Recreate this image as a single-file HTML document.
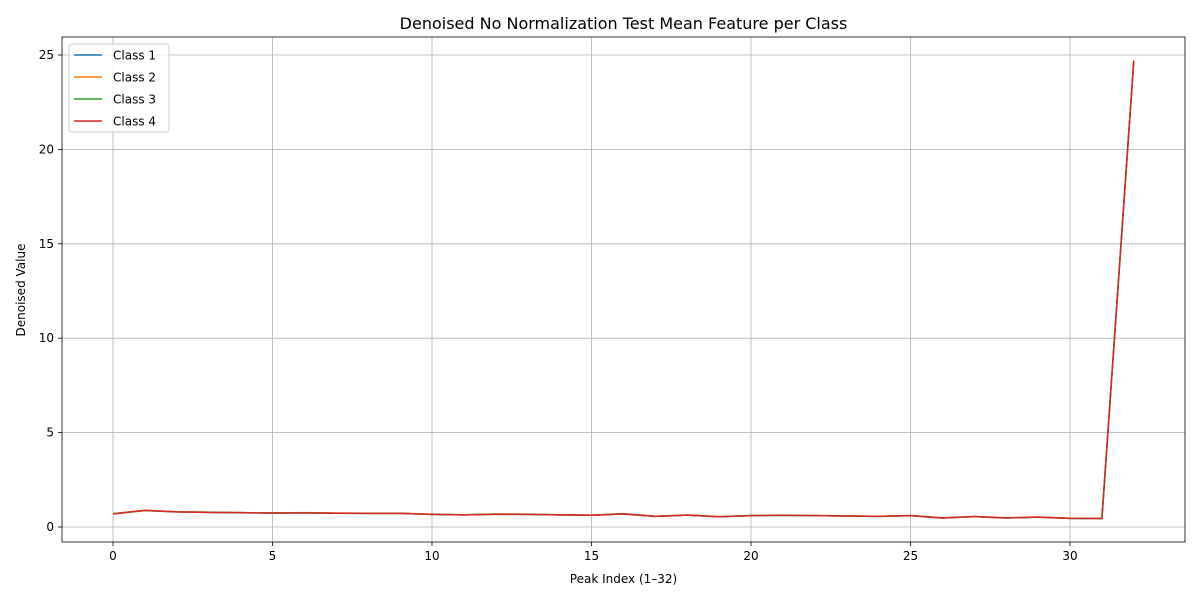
<!DOCTYPE html>
<html><head><meta charset="utf-8"><style>
body{margin:0;background:#fff;font-family:"Liberation Sans","DejaVu Sans",sans-serif}
svg text{font-family:"DejaVu Sans","Liberation Sans",sans-serif}
</style></head><body>
<svg id="chart" width="1200" height="600" xmlns="http://www.w3.org/2000/svg"></svg>
<script>
const xTicks=[0,5,10,15,20,25,30];
const yTicks=[0,5,10,15,20,25];
const seriesNames=["Class 1","Class 2","Class 3","Class 4"];
const seriesColors=["#1f77b4","#ff7f0e","#2ca02c","#d62728"];
const class1=[0.70,0.88,0.80,0.78,0.76,0.74,0.75,0.73,0.72,0.72,0.67,0.64,0.68,0.67,0.64,0.62,0.70,0.56,0.63,0.54,0.60,0.62,0.60,0.58,0.56,0.60,0.48,0.55,0.48,0.52,0.46,0.45,24.70];
const class2=[0.71,0.89,0.81,0.79,0.76,0.75,0.76,0.74,0.73,0.73,0.68,0.65,0.69,0.68,0.65,0.63,0.71,0.57,0.64,0.55,0.61,0.63,0.61,0.59,0.57,0.61,0.49,0.56,0.49,0.53,0.47,0.46,24.72];
const class3=[0.70,0.87,0.80,0.78,0.75,0.74,0.75,0.73,0.72,0.72,0.67,0.64,0.68,0.67,0.64,0.62,0.70,0.56,0.63,0.54,0.60,0.62,0.60,0.58,0.56,0.60,0.48,0.55,0.48,0.52,0.46,0.45,24.68];
const class4=[0.69,0.88,0.80,0.77,0.76,0.74,0.75,0.73,0.72,0.72,0.67,0.64,0.67,0.67,0.64,0.62,0.69,0.56,0.63,0.54,0.60,0.62,0.60,0.58,0.56,0.60,0.48,0.55,0.48,0.52,0.46,0.45,24.70];
const allSeries=[class1,class2,class3,class4];

const NS="http://www.w3.org/2000/svg";
const svg=document.getElementById('chart');
const L=62,R=1185,T=37,B=542;
const xS=v=>113+v*(1070-113)/30;
const yS=v=>527-v*(527-55)/25;
function el(tag,attrs,parent){const e=document.createElementNS(NS,tag);for(const k in attrs)e.setAttribute(k,attrs[k]);(parent||svg).appendChild(e);return e;}

// grid
xTicks.forEach(t=>{
  const g=el('line',{x1:xS(t),x2:xS(t),y1:T,y2:B,stroke:'#b0b0b0','stroke-width':0.8});
  
  
  el('line',{x1:xS(t),x2:xS(t),y1:B,y2:B+4,stroke:'#000','stroke-width':0.8});
  const tx=el('text',{x:xS(t),y:B+18,'text-anchor':'middle','font-size':12,fill:'#000'});
  tx.textContent=t;
  
  
});
yTicks.forEach(t=>{
  const g=el('line',{x1:L,x2:R,y1:yS(t),y2:yS(t),stroke:'#b0b0b0','stroke-width':0.8});
  
  
  el('line',{x1:L-4,x2:L,y1:yS(t),y2:yS(t),stroke:'#000','stroke-width':0.8});
  const tx=el('text',{x:L-8,y:yS(t)+4,'text-anchor':'end','font-size':12,fill:'#000'});
  tx.textContent=t;
  
  
});

// series
allSeries.forEach((s,i)=>{
  const p=el('polyline',{points:s.map((v,j)=>xS(j)+','+yS(v)).join(' '),fill:'none',stroke:seriesColors[i],'stroke-width':1.5});
  
  
});

// frame
const fr=el('rect',{x:L,y:T,width:R-L,height:B-T,fill:'none',stroke:'#000','stroke-width':0.8});



// titles
const title=el('text',{x:(L+R)/2,y:29,'text-anchor':'middle','font-size':16,fill:'#000'});
title.textContent='Denoised No Normalization Test Mean Feature per Class';


const xt=el('text',{x:(L+R)/2,y:583,'text-anchor':'middle','font-size':12,fill:'#000'});
xt.textContent='Peak Index (1–32)';


const yt=el('text',{x:0,y:0,'text-anchor':'middle','font-size':12,fill:'#000',transform:'translate(25,290) rotate(-90)'});
yt.textContent='Denoised Value';



// legend
const lg=el('g',{});


el('rect',{x:69,y:44,width:100,height:88,rx:3,fill:'#fff','fill-opacity':0.8,stroke:'#ccc'},lg);
seriesNames.forEach((n,i)=>{
  const y=55+i*22;
  const ln=el('line',{x1:74,x2:102,y1:y,y2:y,stroke:seriesColors[i],'stroke-width':1.5},lg);
  
  
  const tx=el('text',{x:113,y:y+4.5,'font-size':12,fill:'#000'},lg);
  tx.textContent=n;
  
  
});
</script>
</body></html>
